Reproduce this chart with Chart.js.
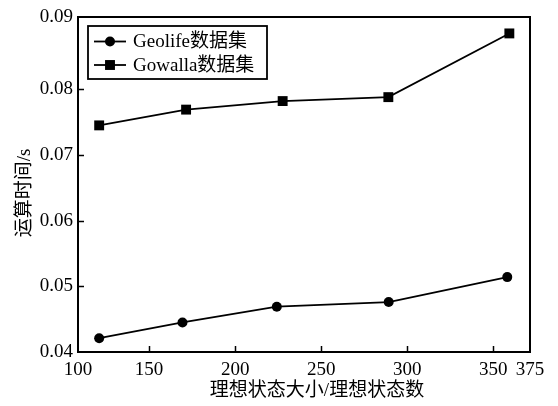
<!DOCTYPE html>
<html>
<head>
<meta charset="utf-8">
<script src="https://cdn.jsdelivr.net/npm/chart.js@4/dist/chart.umd.min.js"></script>
<style>
  html, body { margin: 0; padding: 0; background: #fff; }
  #c { display: block; }
</style>
</head>
<body>
<canvas id="c" width="558" height="406"></canvas>
<script>
// Series: x = ideal state size / ideal state count, y = running time (s)
const geolifeX = [121, 169.4, 224.2, 289.2, 358.1];
const geolifeY = [0.0421, 0.0445, 0.0469, 0.0476, 0.0514];
const gowallaX = [121, 171.5, 227.6, 289.0, 359.3];
const gowallaY = [0.0745, 0.0769, 0.0782, 0.0788, 0.0885];

const seriesNames = ['Geolife数据集', 'Gowalla数据集'];

// Axis extents and tick labels
const xRange = [108.7, 371.3];
const xTicks = [150, 200, 250, 300, 350];
const xEndLabels = ['100', '375'];
const yRange = [0.04, 0.091];
const yTicks = [0.04, 0.05, 0.06, 0.07, 0.08];
const yTopLabel = '0.09';

const xTitle = '理想状态大小/理想状态数';
const yTitle = '运算时间/s';

const FONT = "'Liberation Serif', 'Noto Sans CJK SC', serif";

const toPoints = (xs, ys) => xs.map((x, i) => ({ x: x, y: ys[i] }));

// Frame, inward ticks, axis titles and boxed legend
const decor = {
  id: 'decor',
  afterDraw(chart) {
    const ctx = chart.ctx;
    const a = chart.chartArea;
    const xs = chart.scales.x, ys = chart.scales.y;
    ctx.save();
    ctx.strokeStyle = '#000';
    ctx.lineWidth = 2;
    ctx.strokeRect(a.left, a.top, a.right - a.left, a.bottom - a.top);

    ctx.lineWidth = 1.5;
    ctx.beginPath();
    xTicks.forEach(v => {
      const px = Math.round(xs.getPixelForValue(v)) + 0.5;
      ctx.moveTo(px, a.bottom);
      ctx.lineTo(px, a.bottom - 6);
    });
    yTicks.slice(1).forEach(v => {
      const py = Math.round(ys.getPixelForValue(v)) + 0.5;
      ctx.moveTo(a.left, py);
      ctx.lineTo(a.left + 6, py);
    });
    ctx.stroke();

    // axis titles
    ctx.fillStyle = '#000';
    ctx.font = '19px ' + FONT;
    ctx.textAlign = 'center';
    ctx.textBaseline = 'middle';
    ctx.fillText(xTitle, 317, 391);
    ctx.save();
    ctx.translate(25, 193);
    ctx.rotate(-Math.PI / 2);
    ctx.fillText(yTitle, 0, 0);
    ctx.restore();

    // legend
    const bx = 88, by = 26, bw = 179, bh = 53;
    ctx.lineWidth = 1.8;
    ctx.strokeRect(bx, by, bw, bh);
    const rows = [41.5, 65];
    chart.data.datasets.forEach((ds, i) => {
      const y = rows[i];
      ctx.strokeStyle = ds.borderColor;
      ctx.lineWidth = ds.borderWidth;
      ctx.beginPath();
      ctx.moveTo(94, y);
      ctx.lineTo(126, y);
      ctx.stroke();
      ctx.fillStyle = ds.pointBackgroundColor;
      if (ds.pointStyle === 'rect') {
        const s = Math.SQRT1_2 * ds.pointRadius;
        ctx.fillRect(110 - s, y - s, 2 * s, 2 * s);
      } else {
        ctx.beginPath();
        ctx.arc(110, y, ds.pointRadius, 0, Math.PI * 2);
        ctx.fill();
      }
      ctx.fillStyle = '#000';
      ctx.textAlign = 'left';
      ctx.fillText(ds.label, 133, y + 1);
    });
    ctx.restore();
  }
};

new Chart(document.getElementById('c'), {
  type: 'line',
  data: {
    datasets: [
      {
        label: seriesNames[0],
        data: toPoints(geolifeX, geolifeY),
        borderColor: '#000',
        borderWidth: 1.8,
        pointStyle: 'circle',
        pointRadius: 5,
        pointBackgroundColor: '#000',
        pointBorderWidth: 0,
        tension: 0
      },
      {
        label: seriesNames[1],
        data: toPoints(gowallaX, gowallaY),
        borderColor: '#000',
        borderWidth: 1.8,
        pointStyle: 'rect',
        pointRadius: 7,
        pointBackgroundColor: '#000',
        pointBorderWidth: 0,
        tension: 0
      }
    ]
  },
  options: {
    responsive: false,
    animation: false,
    layout: { padding: { top: 17, right: 28, bottom: 0, left: 0 } },
    plugins: { legend: { display: false }, tooltip: { enabled: false } },
    scales: {
      x: {
        type: 'linear',
        min: xRange[0],
        max: xRange[1],
        grid: { display: false, drawTicks: false },
        border: { display: false },
        afterBuildTicks(scale) {
          scale.ticks = [xRange[0], ...xTicks, xRange[1]].map(v => ({ value: v }));
        },
        afterFit(scale) { scale.height = 54; },
        ticks: {
          color: '#000',
          font: { family: FONT, size: 19 },
          padding: 7,
          maxRotation: 0,
          autoSkip: false,
          callback(v) {
            if (v === xRange[0]) return xEndLabels[0];
            if (v === xRange[1]) return xEndLabels[1];
            return String(v);
          }
        }
      },
      y: {
        type: 'linear',
        min: yRange[0],
        max: yRange[1],
        grid: { display: false, drawTicks: false },
        border: { display: false },
        afterBuildTicks(scale) {
          scale.ticks = [...yTicks, yRange[1]].map(v => ({ value: v }));
        },
        afterFit(scale) { scale.width = 78; },
        ticks: {
          color: '#000',
          font: { family: FONT, size: 19 },
          padding: 5,
          autoSkip: false,
          callback(v) {
            if (v === yRange[1]) return yTopLabel;
            return v.toFixed(2);
          }
        }
      }
    }
  },
  plugins: [decor]
});
</script>
</body>
</html>
